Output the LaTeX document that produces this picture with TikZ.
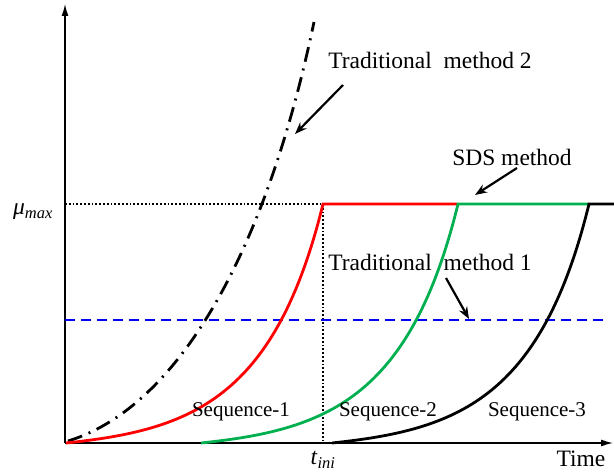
\documentclass[tikz,border=0pt]{standalone}
\usepackage{fontspec}
\setmainfont{Liberation Serif}
\usetikzlibrary{arrows.meta}

\definecolor{seqgreen}{RGB}{0,176,80}

\tikzset{
  lbl/.style={font=\fontsize{23.5}{26}\selectfont, inner sep=1pt},
  seqlbl/.style={font=\fontsize{21}{24}\selectfont, inner sep=1pt},
  pointer/.style={-{Stealth[length=12pt,width=9pt]}, line width=2.2pt},
  seqcurve/.style={line width=2.8pt}
}

\begin{document}
\begin{tikzpicture}[x=1pt,y=-1pt]
  \useasboundingbox (0,0) rectangle (614,473);

  % the axes
  \coordinate (o) at (65,443);
  \coordinate (ytip) at (65,4);
  \coordinate (xtip) at (613,443);
  \draw[line width=1.4pt,-{Latex[length=12pt,width=7pt]}] (o) -- (ytip);
  \draw[line width=1.4pt,-{Latex[length=12pt,width=7pt]}] (o) -- (xtip);

  % the texts on the axes
  \node[lbl] (mu) at (33,212) {\textit{μ}\textsubscript{\textit{max}}};
  \node[lbl] (tini) at (323,460) {\textit{t}\textsubscript{\textit{ini}}};
  \node[lbl] (time) at (581,459) {Time};

  % the guide lines for mu max and t ini
  \coordinate (mumax) at (65,204);
  \coordinate (top) at (323,204);
  \coordinate (tbot) at (323,443);
  \draw[dotted, line width=1.8pt] (mumax) -- (top);
  \draw[dotted, line width=1.8pt] (top) -- (tbot);

  % traditional method 1 (constant level)
  \coordinate (b1) at (65,320);
  \coordinate (b2) at (606,320);
  \draw[blue, dash pattern=on 10pt off 6pt, line width=2pt] (b1) -- (b2);

  % traditional method 2
  \draw[line width=2.8pt, dash pattern=on 15pt off 7pt on 2pt off 7pt]
    (68,441) .. controls (170,410) and (262,270) .. (314,22);

  % the three sequences of the SDS method
  \draw[red, seqcurve] (66,443) .. controls (190,430) and (275,400) .. (top) -- (457,204);
  \draw[seqgreen, seqcurve] (201,443) .. controls (325,430) and (410,400) .. (458,204) -- (588,204);
  \draw[black, seqcurve] (332,443) .. controls (456,430) and (541,400) .. (589,204) -- (614,204);

  % the sequence names
  \node[seqlbl] (s1) at (241,412) {Sequence-1};
  \node[seqlbl] (s2) at (388,412) {Sequence-2};
  \node[seqlbl] (s3) at (537,412) {Sequence-3};

  % the method names and their arrows
  \node[lbl] (tm2) at (430,60) {Traditional\ \ method 2};
  \node[lbl] (sds) at (512,157) {SDS method};
  \node[lbl] (tm1) at (430,262) {Traditional\ \ method 1};

  \coordinate (tm2a) at (343,85);
  \coordinate (tm2b) at (295,134);
  \coordinate (sdsa) at (517,168);
  \coordinate (sdsb) at (475,195);
  \coordinate (tm1a) at (446,278);
  \coordinate (tm1b) at (469,319);
  \draw[pointer] (tm2a) -- (tm2b);
  \draw[pointer] (sdsa) -- (sdsb);
  \draw[pointer] (tm1a) -- (tm1b);
\end{tikzpicture}
\end{document}
